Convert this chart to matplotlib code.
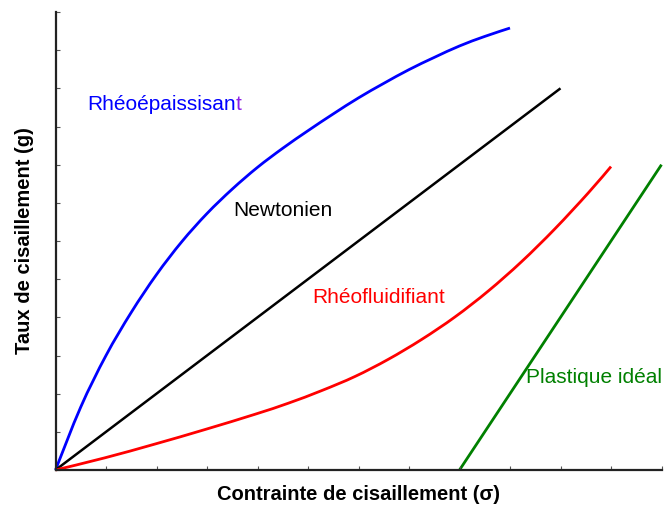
import matplotlib
matplotlib.use("Agg")
import matplotlib.pyplot as plt
from matplotlib.path import Path
from matplotlib.patches import PathPatch

# Flow curves: shear stress (x) vs shear rate (y), arbitrary units
stress_thick = [0.0, 0.5, 1.0, 1.5, 2.0, 2.5, 3.0, 3.5, 4.0, 4.5, 5.0, 5.5,
                6.0, 6.5, 7.0, 7.5, 8.0, 8.5, 9.0]
rate_thick = [0.0, 1.65, 3.0, 4.13, 5.12, 5.98, 6.72, 7.36, 7.93, 8.43, 8.89,
              9.33, 9.75, 10.13, 10.49, 10.81, 11.11, 11.36, 11.58]

stress_newton = [0.0, 10.0]
rate_newton = [0.0, 10.0]

stress_thin = [0.0, 0.98, 1.97, 2.96, 3.95, 4.61, 5.27, 5.93, 6.59, 7.25,
               7.91, 8.57, 9.23, 9.89, 10.55, 11.0]
rate_thin = [0.0, 0.32, 0.68, 1.06, 1.46, 1.75, 2.08, 2.45, 2.90, 3.42,
             4.01, 4.69, 5.46, 6.32, 7.26, 7.95]

stress_plastic = [8.0, 12.0]
rate_plastic = [0.0, 8.0]

ticks = list(range(0, 13))

sans = ["Liberation Sans", "DejaVu Sans"]


def smooth_path(xs, ys):
    """Cubic Bezier path through every (x, y) point, Catmull-Rom tangents."""
    pts = list(zip(xs, ys))
    verts = [pts[0]]
    codes = [Path.MOVETO]
    n = len(pts)
    for i in range(n - 1):
        p0 = pts[i - 1] if i > 0 else pts[i]
        p1 = pts[i]
        p2 = pts[i + 1]
        p3 = pts[i + 2] if i + 2 < n else pts[i + 1]
        c1 = (p1[0] + (p2[0] - p0[0]) / 6, p1[1] + (p2[1] - p0[1]) / 6)
        c2 = (p2[0] - (p3[0] - p1[0]) / 6, p2[1] - (p3[1] - p1[1]) / 6)
        verts += [c1, c2, p2]
        codes += [Path.CURVE4] * 3
    return Path(verts, codes)


fig = plt.figure(figsize=(6.64, 5.08), dpi=100)
ax = fig.add_axes([55.5 / 664, 38 / 508, 606 / 664, 458 / 508])

for xs, ys, col, lw in [
    (stress_thick, rate_thick, "#0000ff", 2.0),
    (stress_newton, rate_newton, "black", 1.8),
    (stress_thin, rate_thin, "#ff0000", 2.0),
    (stress_plastic, rate_plastic, "#008000", 2.0),
]:
    ax.add_patch(PathPatch(smooth_path(xs, ys), facecolor="none",
                           edgecolor=col, lw=lw, clip_on=False,
                           capstyle="butt", joinstyle="round"))

ax.set_xlim(0, 12)
ax.set_ylim(0, 12)
ax.set_xticks(ticks)
ax.set_yticks(ticks)
ax.tick_params(direction="in", length=3, width=0.8, color="#555555",
               labelbottom=False, labelleft=False)
for side in ("top", "right"):
    ax.spines[side].set_visible(False)
for side in ("left", "bottom"):
    ax.spines[side].set_linewidth(1.6)
    ax.spines[side].set_color("#222222")

fs = 15
t1 = ax.text(0.62, 9.43, "Rhéoépaissisan", color="#0000ff", fontsize=fs,
             family=sans, va="baseline", ha="left")
ax.annotate("t", xy=(1, 0), xycoords=t1, color="#8c1ee6", fontsize=fs,
            family=sans, va="bottom", ha="left")
ax.text(3.52, 6.65, "Newtonien", color="black", fontsize=fs, family=sans,
        va="baseline", ha="left")
ax.text(5.09, 4.38, "Rhéofluidifiant", color="#ff0000", fontsize=fs,
        family=sans, va="baseline", ha="left")
ax.text(9.32, 2.27, "Plastique idéal", color="#008000", fontsize=fs,
        family=sans, va="baseline", ha="left")

fig.text(358.5 / 664, 1 - 495 / 508, "Contrainte de cisaillement (σ)",
         fontsize=14.5, fontweight="bold", family=sans, ha="center", va="center")
fig.text(25 / 664, 1 - 241 / 508, "Taux de cisaillement (g)", rotation=90,
         fontsize=14.5, fontweight="bold", family=sans, ha="center", va="center")

fig.savefig("out.png", dpi=100)
